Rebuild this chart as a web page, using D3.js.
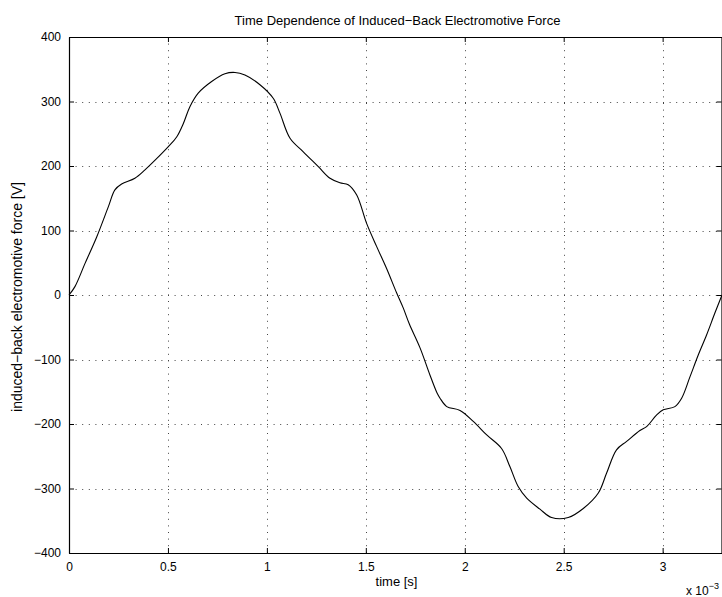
<!DOCTYPE html>
<html>
<head>
<meta charset="utf-8">
<script src="https://cdn.jsdelivr.net/npm/d3@7"></script>
<style>
  html, body { margin: 0; padding: 0; background: #fff; overflow: hidden; }
  svg { display: block; font-family: "Liberation Sans", Arial, Helvetica, sans-serif; }
</style>
</head>
<body>
<svg id="chart" width="722" height="597"></svg>
<script>
// Time samples (in units of 1e-3 s) and induced back-EMF (V)
const timeMs = [0, 0.03, 0.081, 0.14, 0.199, 0.232, 0.266, 0.333, 0.384, 0.435,
  0.502, 0.544, 0.578, 0.611, 0.653, 0.721, 0.788, 0.839, 0.889, 0.965,
  1.032, 1.066, 1.117, 1.184, 1.26, 1.319, 1.369, 1.411, 1.454, 1.504,
  1.555, 1.605, 1.656, 1.689, 1.72, 1.774, 1.824, 1.86, 1.875, 1.909,
  1.976, 2.043, 2.111, 2.186, 2.228, 2.27, 2.313, 2.38, 2.439, 2.523,
  2.599, 2.675, 2.717, 2.767, 2.818, 2.885, 2.919, 2.97, 3.003, 3.062,
  3.096, 3.138, 3.18, 3.222, 3.264, 3.3];
const emf = [0, 13, 49, 90, 137, 163, 172, 181, 194, 209,
  230, 245, 266, 292, 313, 331, 343, 345, 341, 326,
  305, 282, 243, 222, 199, 181, 174, 171, 155, 111,
  75, 41, 3, -20, -45, -82, -124, -152, -160, -173,
  -179, -196, -217, -238, -266, -297, -315, -332, -345, -345,
  -331, -307, -276, -240, -227, -210, -204, -186, -178, -173,
  -160, -127, -93, -62, -28, 0];

const xTicks = [0, 0.5, 1, 1.5, 2, 2.5, 3];
const yTicks = [-400, -300, -200, -100, 0, 100, 200, 300, 400];

const titleText = "Time Dependence of Induced\u2212Back Electromotive Force";
const xLabelText = "time [s]";
const yLabelText = "induced\u2212back electromotive force [V]";

const plotL = 69, plotR = 722, plotT = 37, plotB = 553;
const svg = d3.select("#chart");

const x = d3.scaleLinear().domain([0, 3.3]).range([plotL, plotR]);
const y = d3.scaleLinear().domain([-400, 400]).range([plotB, plotT]);

const fmt = v => (v < 0 ? "\u2212" + Math.abs(v) : String(v));

// dotted grid
const grid = svg.append("g").attr("stroke", "#444").attr("stroke-width", 1)
  .attr("stroke-dasharray", "1,5.6").attr("fill", "none");
xTicks.filter(t => t > 0).forEach(t => {
  grid.append("line").attr("x1", Math.round(x(t)) + 0.5).attr("x2", Math.round(x(t)) + 0.5)
    .attr("y1", plotT).attr("y2", plotB);
});
yTicks.filter(t => t > -400 && t < 400).forEach(t => {
  grid.append("line").attr("x1", plotL).attr("x2", plotR)
    .attr("y1", Math.round(y(t)) + 0.5).attr("y2", Math.round(y(t)) + 0.5);
});

// axes (ticks pointing inward), plus mirrored top/right axes
const fontSize = 12;
const gx = svg.append("g").attr("transform", `translate(0,${plotB})`)
  .call(d3.axisBottom(x).tickValues(xTicks).tickFormat(fmt).tickSizeInner(-5).tickSizeOuter(0).tickPadding(9));
const gy = svg.append("g").attr("transform", `translate(${plotL},0)`)
  .call(d3.axisLeft(y).tickValues(yTicks).tickFormat(fmt).tickSizeInner(-5).tickSizeOuter(0).tickPadding(8));
const gt = svg.append("g").attr("transform", `translate(0,${plotT})`)
  .call(d3.axisTop(x).tickValues(xTicks).tickFormat("").tickSizeInner(-5).tickSizeOuter(0));
const gr = svg.append("g").attr("transform", `translate(${plotR - 0.5},0)`)
  .call(d3.axisRight(y).tickValues(yTicks).tickFormat("").tickSizeInner(-5).tickSizeOuter(0));
[gx, gy, gt, gr].forEach(g => {
  g.selectAll("path.domain").attr("stroke", "#000").attr("stroke-width", 1.2);
  g.selectAll(".tick line").attr("stroke", "#000");
  g.selectAll("text").attr("fill", "#000").style("font-size", fontSize + "px")
    .style("font-family", '"Liberation Sans", Arial, sans-serif');
});

// curve
const line = d3.line().x((d, i) => x(timeMs[i])).y(d => y(d)).curve(d3.curveCatmullRom.alpha(0.5));
svg.append("path").datum(emf).attr("d", line).attr("fill", "none")
  .attr("stroke", "#000").attr("stroke-width", 1.1);

// labels
svg.append("text").attr("x", (plotL + plotR) / 2 + 2).attr("y", 25).attr("text-anchor", "middle")
  .style("font-size", "13px").text(titleText);
svg.append("text").attr("x", (plotL + plotR) / 2 + 1).attr("y", 586).attr("text-anchor", "middle")
  .style("font-size", "13px").text(xLabelText);
svg.append("text").attr("transform", `translate(22,${(plotT + plotB) / 2 + 2}) rotate(-90)`)
  .attr("text-anchor", "middle").style("font-size", "14px").text(yLabelText);

// exponent label for the time axis
const ex = svg.append("text").attr("x", 686).attr("y", 595).style("font-size", "12px");
ex.append("tspan").text("x 10");
ex.append("tspan").attr("dy", -6).style("font-size", "9px").text("\u22123");
</script>
</body>
</html>
